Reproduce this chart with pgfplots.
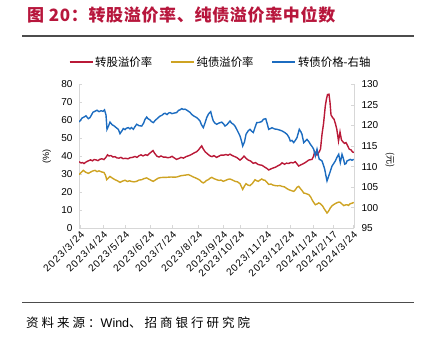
\documentclass[border=0pt]{standalone}
\usepackage{pgfplots}
\pgfplotsset{compat=1.18}
\usepackage{fontspec}
\setmainfont{Liberation Sans}
\newfontfamily\cjk{Noto Sans CJK SC}
\newfontfamily\cjktitle[LetterSpace=4]{Noto Sans CJK SC}
\newfontfamily\cjksrc[LetterSpace=24]{Noto Sans CJK SC}
\newfontfamily\xlab[LetterSpace=11]{Liberation Sans}
\definecolor{cred}{RGB}{185,25,55}
\definecolor{cyel}{RGB}{206,163,35}
\definecolor{cblue}{RGB}{28,108,192}
\definecolor{ctitle}{RGB}{183,22,60}
\definecolor{caxis}{RGB}{215,215,215}
\begin{document}
\begin{tikzpicture}[x=1pt,y=1pt]
\path[use as bounding box] (0pt,0pt) rectangle (422pt,340pt);
\node[anchor=west, font=\cjktitle\bfseries\fontsize{17}{20}\selectfont, text=ctitle, inner sep=0] at (27pt,325pt) {图 20：转股溢价率、纯债溢价率中位数};
\draw[line width=1.2pt, color=black!70] (22pt,304pt) -- (414pt,304pt);
\draw[line width=1.2pt, color=black!70] (22pt,37.3pt) -- (414pt,37.3pt);
\node[anchor=west, font=\fontsize{12.5}{14}\selectfont, inner sep=0] at (26pt,17.3pt) {{\cjksrc 资料来源：}Wind{\cjksrc 、招商银行研究院}};
\node[rotate=90, font=\fontsize{9}{10}\selectfont] at (46.7pt,183.3pt) {(\%)};
\node[rotate=-90, font=\cjk\fontsize{9}{10}\selectfont] at (390pt,180pt) {(元)};
\begin{axis}[
  at={(79pt,111.7pt)}, anchor=south west,
  scale only axis, width=275pt, height=144pt,
  xmin=0, xmax=275, ymin=0, ymax=80,
  axis x line*=bottom, axis y line*=left,
  axis line style={caxis, line width=0.8pt},
  tick style={caxis, line width=0.6pt}, major tick length=3pt, tick align=inside,
  ytick={0,10,...,80},
  /pgf/number format/assume math mode=true,
  yticklabel style={font=\fontsize{10}{12}\selectfont, xshift=-3pt},
  xtick={1,24,46,71,93,119,144,161,188,211,234,254,274},
  xticklabels={2023/3/24,2023/4/24,2023/5/24,2023/6/24,2023/7/24,2023/8/24,2023/9/24,2023/10/24,2023/11/24,2023/12/24,2024/1/24,2024/2/17,2024/3/24},
  xticklabel style={rotate=45, anchor=north east, font=\xlab\fontsize{10}{12}\selectfont, inner sep=1pt},
  legend columns=3,
  legend style={draw=none, fill=none, at={(0.515,1.155)}, anchor=center, font=\cjk\fontsize{11.4}{13}\selectfont, /tikz/every even column/.append style={column sep=16pt}},
  legend image code/.code={\draw[#1] (0pt,0pt) -- (23pt,0pt);},
  legend cell align=left,
]
\addplot[cred, line width=1.4pt] coordinates {
(0,37.0)(2,36.3)(3.5,36.5)(5,36.0)(7,36.8)(9,37.4)(11.5,38.0)(13.5,37.5)(15,38.2)(17,38.0)(19,37.6)(21,38.4)(23,38.6)(25,38.2)(27,39.5)(28.5,40.8)(30,40.2)(32,40.4)(34,39.6)(36,39.8)(38,39.1)(40,39.0)(42,39.4)(44,38.7)(46.5,38.9)(49,38.6)(51,39.2)(53.5,39.4)(56,39.9)(58,39.4)(60,40.3)(62,40.8)(64,40.2)(66.5,40.9)(68.5,40.5)(70.5,41.6)(72.5,42.5)(74,43.2)(75.5,41.8)(78,40.0)(80,39.6)(82,40.2)(84.5,39.5)(86.5,39.6)(88.5,39.2)(91,39.4)(93,40.0)(95,39.2)(97.5,38.3)(100,38.8)(102,39.4)(104.5,39.0)(107,39.8)(109,40.2)(111,40.6)(113,41.2)(115.5,42.0)(117.5,42.5)(119.5,43.5)(121.5,45.0)(122.7,45.8)(124,44.3)(126,42.6)(128,41.6)(131,40.2)(133,39.8)(135,40.4)(137.5,39.4)(140,40.1)(142,40.7)(144.5,40.6)(147,41.0)(149,40.6)(151,41.2)(153,40.5)(155,40.0)(157.5,39.4)(159,38.8)(161,37.9)(163,38.8)(165,40.1)(167,38.9)(169.3,37.9)(171.5,37.4)(174.3,36.1)(176.5,36.5)(179,35.5)(181,35.2)(183,35.0)(186,33.9)(188,33.2)(189.7,32.4)(192,33.0)(194,33.5)(196.3,33.9)(198.5,34.6)(201,35.3)(203,36.4)(205.5,35.6)(207.5,36.2)(209.7,36.0)(212,36.6)(214,36.3)(216.3,37.0)(218,35.8)(219.7,34.6)(222,35.3)(224.7,36.0)(227,36.8)(229.7,37.9)(233,38.3)(234.5,40.0)(235.7,42.6)(237,41.5)(238,40.7)(240.3,42.6)(241.5,44.0)(243,52.2)(244.5,58.0)(246.3,68.0)(247.5,72.0)(248.5,74.3)(250,74.5)(251,70.0)(252,63.0)(253.5,61.6)(255,60.6)(256.5,58.0)(257.8,55.0)(259.5,48.5)(261,53.5)(262.5,49.0)(264,48.0)(265.5,47.2)(267,47.6)(268.5,46.0)(270.3,43.9)(272,43.6)(273.5,42.4)(275,42.2)
};
\addlegendentry{转股溢价率}
\addplot[cyel, line width=1.4pt] coordinates {
(0,29.8)(2,31.0)(4.3,32.2)(6.5,31.2)(9.3,30.5)(11.5,31.2)(13.5,31.8)(16,32.2)(18,31.5)(20,31.9)(22.7,31.3)(25,31.0)(26.5,29.5)(27.7,27.0)(29.5,28.0)(31,28.8)(33,28.0)(36,27.0)(38.5,26.4)(41,25.5)(43.5,26.2)(46,26.7)(48.5,26.0)(50.5,26.4)(52.7,26.0)(55,25.8)(57.7,26.1)(60,26.8)(62.7,27.0)(65,27.6)(67.7,28.0)(69.5,27.4)(71,27.0)(72.5,26.5)(74.3,26.1)(76.5,26.9)(79.3,27.9)(82,28.2)(84.5,28.3)(87,28.3)(89.5,28.4)(92,28.5)(95,28.4)(97.7,28.5)(100,28.9)(102,29.2)(104.3,29.4)(107,29.6)(109.3,29.8)(111.5,29.3)(114.3,28.5)(116.5,28.0)(118.5,27.5)(121,26.7)(122.5,25.8)(124.3,25.2)(126,25.8)(127.5,26.6)(129.3,27.0)(131,27.8)(132.7,28.3)(135,27.6)(137.7,27.0)(140,26.6)(142,26.8)(144.3,26.1)(146.5,26.6)(149,27.2)(151,27.4)(153.5,26.8)(156,26.1)(158.5,25.8)(161,24.8)(162.5,23.0)(163.7,21.6)(165.5,23.5)(167,24.8)(169,24.0)(171,23.7)(173.5,25.0)(176,27.0)(177.7,26.4)(179.3,26.1)(181,26.8)(182.7,27.4)(184.5,26.8)(186,26.7)(188,25.5)(189.7,24.4)(192,24.6)(194,24.0)(196.3,23.7)(198.5,23.6)(201,23.7)(203,23.3)(205.5,23.0)(207.5,22.2)(209.7,21.5)(212,21.0)(214.7,20.5)(216.5,21.5)(218,22.8)(219.7,23.3)(221.5,22.0)(223,21.0)(224.7,19.6)(227,19.3)(229.7,18.7)(231.5,17.6)(233,15.9)(234.5,14.5)(236.3,13.1)(238,13.5)(239.7,14.1)(241,13.8)(242.3,13.1)(243.5,12.5)(244.7,11.3)(246.5,9.8)(248,8.5)(249.5,9.5)(251.3,11.3)(253,12.5)(255,13.3)(256.3,13.7)(258,14.2)(260,14.6)(261.3,14.4)(262.8,13.6)(264.7,12.6)(266.5,13.0)(268,13.1)(269.5,12.7)(271.3,13.7)(273,13.9)(274.7,14.4)
};
\addlegendentry{纯债溢价率}
\addlegendimage{cblue, line width=1.4pt}
\addlegendentry{转债价格-右轴}
\end{axis}
\begin{axis}[
  at={(79pt,111.7pt)}, anchor=south west,
  scale only axis, width=275pt, height=144pt,
  xmin=0, xmax=275, ymin=95, ymax=130,
  axis x line=none, axis y line*=right,
  axis line style={caxis, line width=0.8pt},
  tick style={caxis, line width=0.6pt}, major tick length=3pt, tick align=inside,
  ytick={95,100,...,130},
  /pgf/number format/assume math mode=true,
  yticklabel style={font=\fontsize{10}{12}\selectfont, xshift=4pt},
]
\addplot[cblue, line width=1.4pt] coordinates {
(0,120.86)(1.5,121.25)(3,121.78)(5,122.04)(7,122.34)(9.3,121.64)(11,121.91)(12.5,122.56)(14,123.22)(16,123.44)(18,123.70)(20,123.35)(22,123.57)(24,123.44)(25.5,123.79)(27,122.56)(28,119.06)(29.5,119.85)(31,120.81)(33,120.20)(35.3,119.85)(37,119.50)(39.3,119.06)(41,118.01)(43,118.71)(44.3,119.24)(46,118.98)(47.5,119.33)(49.3,119.46)(51,119.15)(52.5,119.50)(54.3,119.06)(56,119.72)(57.7,120.29)(60,119.94)(62.7,119.85)(64.5,120.51)(66,121.47)(67.7,122.04)(69,121.64)(71,121.34)(72.5,120.94)(74.3,120.68)(76,121.16)(77.5,121.51)(79.3,121.91)(81,122.26)(83,122.48)(84.5,122.83)(86,122.96)(88,122.65)(89.5,123.00)(91,123.13)(93,122.87)(95,123.00)(97.7,123.13)(99.5,123.66)(101,123.79)(102.7,124.09)(104.5,123.88)(106,123.96)(107.7,123.74)(109.5,123.44)(111,123.18)(112.7,122.69)(114.5,122.34)(116,122.13)(117.7,121.91)(119.5,121.51)(121,121.08)(122.5,120.16)(124.3,119.46)(126,120.59)(127.7,121.91)(129.5,122.78)(131.7,123.35)(133,122.13)(134.3,121.08)(136,120.55)(137.7,120.29)(140,120.59)(142.7,120.81)(144.5,120.38)(146,119.85)(148,120.20)(151,121.08)(152.5,120.59)(154.3,120.29)(156,119.85)(157.7,119.06)(159.5,118.19)(161,117.44)(162.5,116.22)(163.7,114.99)(165.5,116.00)(167,117.84)(169,118.63)(171,119.06)(172.5,118.63)(174.3,118.28)(176,119.50)(177.7,120.68)(180,120.73)(182.7,120.94)(184.5,121.51)(186.7,121.64)(188,120.59)(189.7,119.06)(191.5,119.24)(193,119.46)(195.5,119.15)(198,119.06)(200.5,118.89)(203,118.67)(205.5,118.32)(208,117.84)(210,117.09)(211.3,116.22)(213,116.35)(214.7,115.83)(216.5,116.44)(218,117.05)(219.3,118.19)(220.3,119.06)(222,118.41)(223,117.84)(224.7,115.83)(226.5,116.26)(228,116.61)(230,116.00)(231.3,115.43)(233,114.91)(234.7,114.21)(236.3,112.59)(238,114.21)(239.3,112.72)(240.3,111.76)(241.5,111.63)(243,111.36)(244.5,110.31)(245.7,109.35)(247,107.69)(248,106.51)(249.7,107.69)(251.5,109.00)(253,110.14)(254.7,110.75)(256.3,111.36)(258,112.28)(259.7,112.98)(261.3,110.97)(263,112.98)(264.5,111.84)(265.7,110.58)(267,110.75)(268,111.36)(269.5,111.54)(271.3,111.76)(273,111.54)(274.7,111.76)
};
\end{axis}
\end{tikzpicture}
\end{document}
